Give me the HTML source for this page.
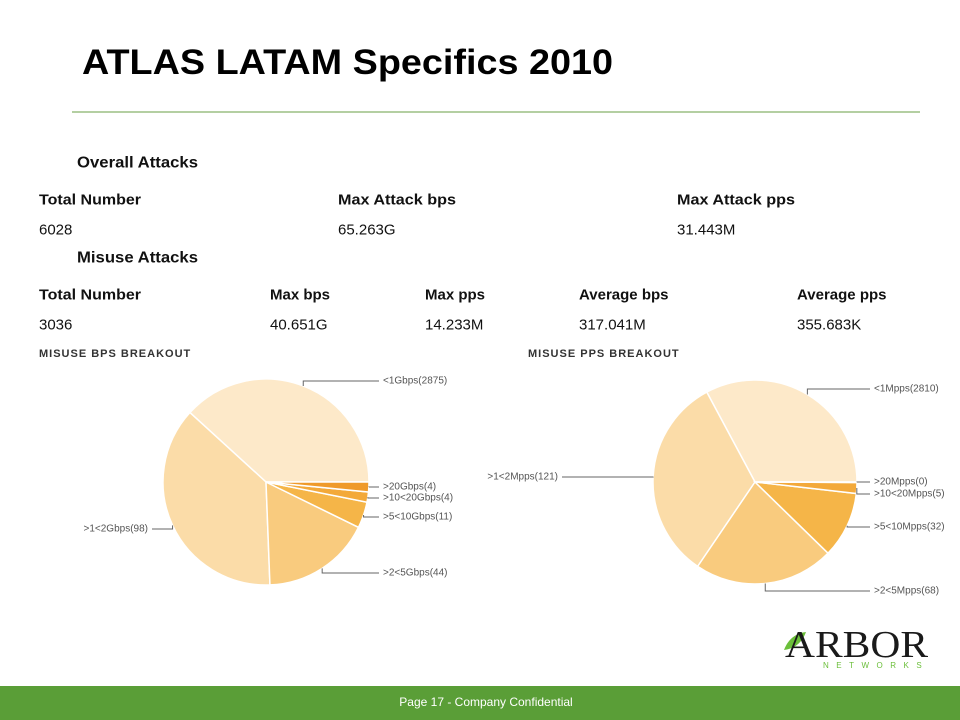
<!DOCTYPE html>
<html><head><meta charset="utf-8"><style>
body{margin:0;background:#fff;}
svg{display:block;font-family:"Liberation Sans",Arial,sans-serif;}
</style></head><body>
<svg width="960" height="720" viewBox="0 0 960 720">
<text x="82" y="74" font-size="35" font-weight="bold" fill="#000" textLength="531" lengthAdjust="spacingAndGlyphs">ATLAS LATAM Specifics 2010</text>
<line x1="72" y1="112" x2="920" y2="112" stroke="#6a9f45" stroke-width="1"/>
<g font-weight="bold" font-size="16" fill="#111" dominant-baseline="central">
<text x="77" y="163" textLength="121" lengthAdjust="spacingAndGlyphs">Overall Attacks</text>
<text x="77" y="258" textLength="121" lengthAdjust="spacingAndGlyphs">Misuse Attacks</text>
</g>
<g font-weight="bold" font-size="15" fill="#111" dominant-baseline="central">
<text x="39" y="200" textLength="102" lengthAdjust="spacingAndGlyphs">Total Number</text>
<text x="338" y="200" textLength="118" lengthAdjust="spacingAndGlyphs">Max Attack bps</text>
<text x="677" y="200" textLength="118" lengthAdjust="spacingAndGlyphs">Max Attack pps</text>
<text x="39" y="295" textLength="102" lengthAdjust="spacingAndGlyphs">Total Number</text>
<text x="270" y="295">Max bps</text>
<text x="425" y="295">Max pps</text>
<text x="579" y="295">Average bps</text>
<text x="797" y="295">Average pps</text>
</g>
<g font-size="15" fill="#111" dominant-baseline="central">
<text x="39" y="230">6028</text>
<text x="338" y="230">65.263G</text>
<text x="677" y="230">31.443M</text>
<text x="39" y="325">3036</text>
<text x="270" y="325">40.651G</text>
<text x="425" y="325">14.233M</text>
<text x="579" y="325">317.041M</text>
<text x="797" y="325">355.683K</text>
</g>
<g font-size="11" font-weight="bold" fill="#333" letter-spacing="1" dominant-baseline="central">
<text x="39" y="354">MISUSE BPS BREAKOUT</text>
<text x="528" y="354">MISUSE PPS BREAKOUT</text>
</g>
<g id="bpsPie"></g>
<g id="ppsPie"></g>
<g id="labels" font-size="10" fill="#555" dominant-baseline="central"></g>
<g>
<path d="M784 650 Q790 634 806 632 Q800 648 784 650Z" fill="#6bbf3a"/>
<text x="785" y="657" font-family="Liberation Serif,serif" font-size="38" fill="#1a1a1a" textLength="143" lengthAdjust="spacingAndGlyphs">ARBOR</text>
<text x="823" y="668" font-size="8" fill="#6bbf3a" letter-spacing="7.5">NETWORKS</text>
</g>
<rect x="0" y="686" width="960" height="34" fill="#5a9e37"/>
<text x="486" y="702" font-size="12" fill="#fff" text-anchor="middle" dominant-baseline="central">Page 17 - Company Confidential</text>
</svg>
<script>
// BPS breakout (slice shares in degrees as drawn in picture; counts as labeled)
const bpsCategories = ["<1Gbps", ">1<2Gbps", ">2<5Gbps", ">5<10Gbps", ">10<20Gbps", ">20Gbps"];
const bpsCounts = [2875, 98, 44, 11, 4, 4];
const bpsShares = [137.6, 134.6, 61.7, 14.8, 5.7, 5.6];
const ppsCategories = ["<1Mpps", ">1<2Mpps", ">2<5Mpps", ">5<10Mpps", ">10<20Mpps", ">20Mpps"];
const ppsCounts = [2810, 121, 68, 32, 5, 0];
const ppsShares = [118.3, 117.7, 80, 37.8, 6.2, 0.3];
const colors = ["#fde9c9", "#fbdca8", "#f9cb7e", "#f5b548", "#f3a93a", "#ef9a2a"];
const NS = "http://www.w3.org/2000/svg";
const bpsLabelPos = [[383,381],[148,529],[383,573],[383,517],[383,498],[383,487]];
const ppsLabelPos = [[874,389],[558,477],[874,591],[874,527],[874,494],[874,482]];

function drawPie(gid, cx, cy, r, cats, counts, shares, lpos, prefix) {
  const g = document.getElementById(gid);
  const lab = document.getElementById('labels');
  const total = shares.reduce((a, b) => a + b, 0);
  let a0 = 0;
  shares.forEach((s, i) => {
    const a1 = a0 + s / total * 360;
    const r0 = a0 * Math.PI / 180, r1 = a1 * Math.PI / 180;
    const x0 = cx + r * Math.cos(r0), y0 = cy - r * Math.sin(r0);
    const x1 = cx + r * Math.cos(r1), y1 = cy - r * Math.sin(r1);
    const large = (a1 - a0) > 180 ? 1 : 0;
    const p = document.createElementNS(NS, 'path');
    p.setAttribute('d', `M${cx},${cy} L${x0},${y0} A${r},${r} 0 ${large} 0 ${x1},${y1} Z`);
    p.setAttribute('fill', colors[i]);
    p.setAttribute('stroke', '#fff');
    p.setAttribute('stroke-width', '1.5');
    
    
    g.appendChild(p);
    const mid = (a0 + a1) / 2 * Math.PI / 180;
    const ex = cx + r * Math.cos(mid), ey = cy - r * Math.sin(mid);
    const [lx, ly] = lpos[i];
    const left = lx < cx;
    const tx = left ? lx + 4 : lx - 4;
    const l = document.createElementNS(NS, 'polyline');
    l.setAttribute('points', `${ex},${ey} ${ex},${ly} ${tx},${ly}`);
    l.setAttribute('fill', 'none');
    l.setAttribute('stroke', '#666');
    l.setAttribute('stroke-width', '1');
    
    
    lab.appendChild(l);
    const t = document.createElementNS(NS, 'text');
    t.setAttribute('x', lx);
    t.setAttribute('y', ly);
    t.setAttribute('text-anchor', left ? 'end' : 'start');
    t.textContent = cats[i] + '(' + counts[i] + ')';
    
    
    lab.appendChild(t);
    a0 = a1;
  });
}
drawPie('bpsPie', 266, 482, 103, bpsCategories, bpsCounts, bpsShares, bpsLabelPos, 'bps');
drawPie('ppsPie', 755, 482, 102, ppsCategories, ppsCounts, ppsShares, ppsLabelPos, 'pps');
</script>
</body></html>
